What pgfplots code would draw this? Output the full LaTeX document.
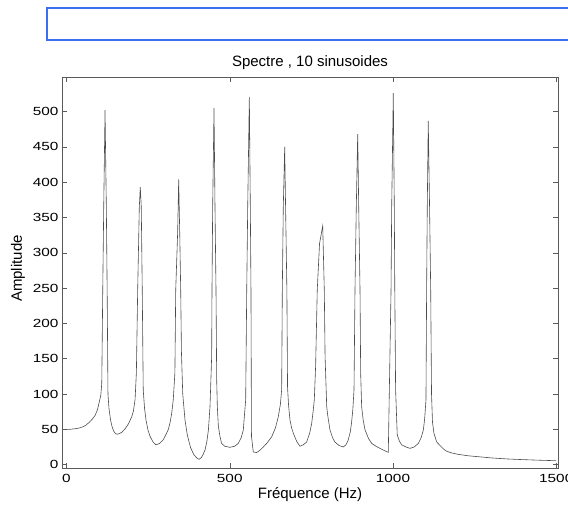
\documentclass[border=0pt]{standalone}
\usepackage{fontspec}
\setmainfont{Liberation Sans}
\newfontfamily\tickfont{Liberation Sans}[FakeStretch=1.3]
\usepackage{pgfplots}
\pgfplotsset{compat=1.18}
\definecolor{blueframe}{RGB}{59,111,240}
\definecolor{axisgray}{RGB}{90,90,90}

\begin{document}
\begin{tikzpicture}[x=1pt,y=1pt]
\useasboundingbox (0,0) rectangle (568,508);
\draw[blueframe, line width=2pt] (47,468) rectangle (640,500);
\begin{axis}[
    at={(62pt,40pt)}, anchor=south west,
    width=496pt, height=391pt, scale only axis,
    xmin=-13.8, xmax=1505.4,
    ymin=-4.8, ymax=549,
    xtick={0,500,1000,1500},
    ytick={0,50,...,500},
    tick align=inside,
    major tick length=5pt,
    axis line style={axisgray},
    every tick/.style={axisgray},
    tick label style={font=\tickfont\fontsize{11.8}{12}\selectfont},
    xticklabel style={yshift=-3pt},
    /pgf/number format/assume math mode=true,
    /pgf/number format/1000 sep={},
    title={Spectre , 10 sinusoides},
    title style={font=\fontsize{15}{16}\selectfont, at={(0.5,1)}, anchor=center, yshift=8pt},
    xlabel={Fréquence (Hz)},
    xlabel style={font=\fontsize{15}{16}\selectfont, at={(0.5,0)}, anchor=center, yshift=-27pt},
    ylabel={Amplitude},
    ylabel style={font=\fontsize{15}{16}\selectfont, at={(0,0.5)}, anchor=center, yshift=44pt, xshift=4pt},
]
\addplot[color=black!70, line width=0.6pt] coordinates {
(0,50) (10,50) (20,50.5) (30,51) (40,52) (50,53.5) (60,56) (70,60) (80,65) (88,70)
(95,78) (100,88) (105,98) (108,115) (111,247) (114,365) (118,502) (122,365) (124.5,247) (127,100)
(130,80) (135,63) (140,53) (145,47) (150,44) (155,43) (162,44) (170,46) (180,51) (190,58)
(200,68) (205,76) (210,92) (214,130) (218,247) (223,365) (226,393) (229,365) (232,247) (235,106)
(239,80) (243.5,63) (250,48) (256,40) (265,32) (274,28) (285,30) (296,35) (305,43) (312,50)
(317,59) (322,72) (327,92) (332,130) (334.5,247) (340.5,330) (343.6,404) (346.7,330) (349.8,247) (352,160)
(356,100) (363,63) (370,42) (380,24) (390,14) (400,9) (406,7.5) (413,10) (418,14) (424.5,21)
(430,33) (434.6,49) (439.5,82) (444.6,153) (445.6,247) (447.7,365) (451.8,505) (454.8,365) (457.9,247) (460,120)
(462,82) (465,55) (470,40) (475,30) (485,26) (500,24.5) (515,26) (526,30) (535,38) (541.5,49)
(545,70) (548.8,91.5) (552,247) (555,365) (560,521) (563,365) (565,247) (566.5,40) (572,18) (582,17)
(592,20) (603,25) (615,31) (628.5,39.5) (640,52) (648.7,68) (655,85) (659,106) (661,247) (664,365)
(668.3,450) (671,365) (675,247) (677,110) (680,85) (684.5,63) (690,51) (695,44) (705,33) (715,26)
(725,28) (735.6,32) (745,45) (751,58.5) (756,78) (759,92) (763,139) (768,247) (775,313) (784.7,338)
(789.6,247) (792,153) (797,82) (800,70) (807,49) (815,38) (822,32) (835,27) (847.7,25) (856,28)
(863,35) (869,46) (873,59) (877,78) (880.6,106) (883.6,247) (887.6,365) (891.9,468) (895,365) (899,247)
(901,129) (904,82) (909,62) (914.5,49) (925,37) (935,30) (948,26) (960,23) (973,20) (985.6,17.4)
(994,247) (996,365) (1000.9,526) (1004,365) (1005.5,247) (1008,106) (1013,42) (1020,33) (1026.6,28) (1040,25)
(1052,23) (1065,25) (1077.6,30) (1086,38) (1093,49) (1097,65) (1101,91.5) (1103,247) (1105,365) (1108,487)
(1112,365) (1115.5,247) (1118,100) (1121,60) (1125.6,44) (1134,32) (1144,27) (1155,22) (1164,19) (1180,16.5)
(1200,14.5) (1230,12.5) (1266,11) (1300,9.5) (1350,8) (1400,7) (1450,6.2) (1500,5.5)
};
\end{axis}
\end{tikzpicture}
\end{document}
